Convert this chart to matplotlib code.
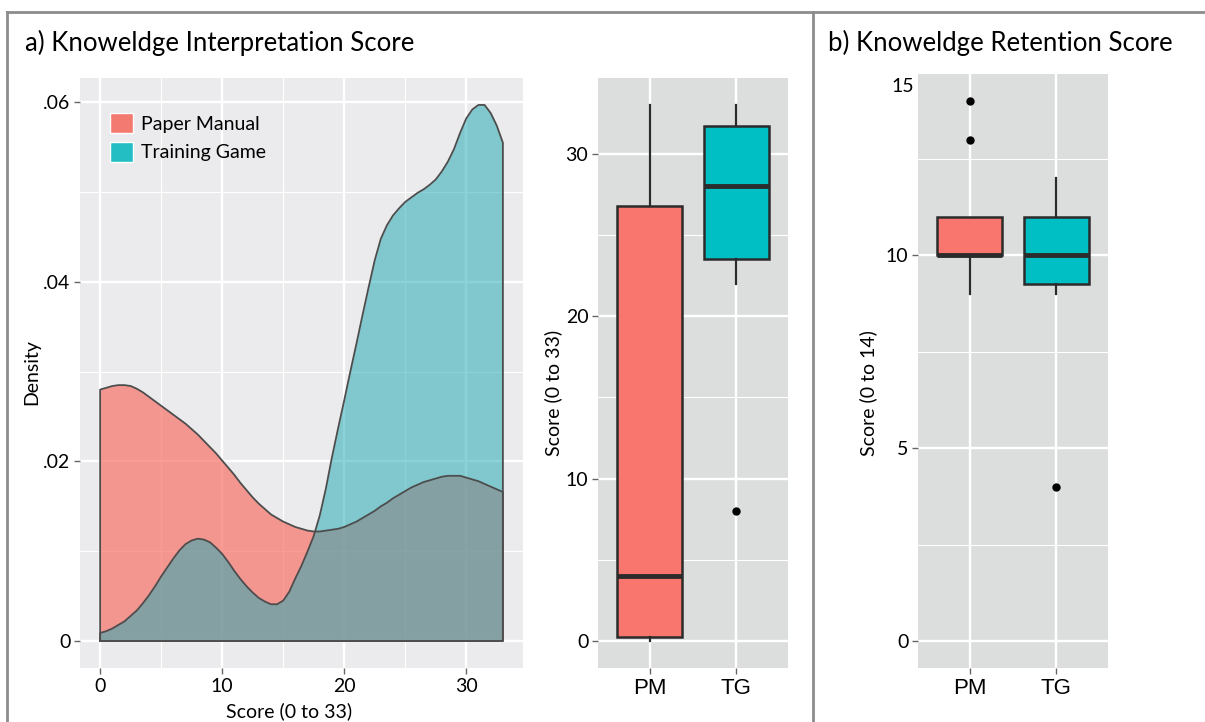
import matplotlib
matplotlib.use("Agg")
import matplotlib.pyplot as plt
from matplotlib.patches import Patch
from matplotlib.lines import Line2D

plt.rcParams['font.family'] = ['Lato', 'DejaVu Sans']

# density curves, every half point of score 0..33
score = [i / 2 for i in range(67)]
dens_pm = [0.0280, 0.0282, 0.0284, 0.0285, 0.0285, 0.0284, 0.0281, 0.0277, 0.0272, 0.0267,
           0.0262, 0.0257, 0.0252, 0.0247, 0.0242, 0.0236, 0.0230, 0.0223, 0.0216, 0.0209,
           0.0201, 0.0193, 0.0185, 0.0176, 0.0168, 0.0160, 0.0153, 0.0147, 0.0141, 0.0137,
           0.0133, 0.0130, 0.0127, 0.0125, 0.0123, 0.0122, 0.0122, 0.0123, 0.0124, 0.0125,
           0.0127, 0.0130, 0.0133, 0.0137, 0.0141, 0.0145, 0.0150, 0.0154, 0.0159, 0.0163,
           0.0167, 0.0171, 0.0174, 0.0177, 0.0179, 0.0181, 0.0183, 0.0184, 0.0184, 0.0184,
           0.0182, 0.0180, 0.0178, 0.0175, 0.0172, 0.0169, 0.0166]
dens_tg = [0.0009, 0.0011, 0.0014, 0.0018, 0.0022, 0.0028, 0.0034, 0.0042, 0.0051, 0.0061,
           0.0072, 0.0082, 0.0092, 0.0101, 0.0108, 0.0112, 0.0114, 0.0113, 0.0110, 0.0104,
           0.0097, 0.0088, 0.0078, 0.0069, 0.0061, 0.0054, 0.0048, 0.0044, 0.0041, 0.0041,
           0.0045, 0.0055, 0.0070, 0.0084, 0.0100, 0.0117, 0.0140, 0.0170, 0.0205, 0.0237,
           0.0268, 0.0300, 0.0331, 0.0363, 0.0394, 0.0424, 0.0448, 0.0463, 0.0474, 0.0482,
           0.0489, 0.0494, 0.0499, 0.0503, 0.0508, 0.0514, 0.0523, 0.0534, 0.0548, 0.0566,
           0.0582, 0.0592, 0.0597, 0.0597, 0.0588, 0.0574, 0.0555]

groups = ['PM', 'TG']
legend_labels = ['Paper Manual', 'Training Game']

# boxplot stats: (low whisker, q1, median, q3, high whisker, outliers)
interp_pm = (0, 0.25, 4, 26.8, 33, [])
interp_tg = (22, 23.5, 28, 31.7, 33, [8])
retent_pm = (9, 10, 10, 11, 11, [13, 14])
retent_tg = (9, 9.25, 10, 11, 12, [4])

RED = '#F8766D'
TEAL = '#00BFC4'
W, H = 1205, 722

fig = plt.figure(figsize=(W / 100, H / 100), dpi=100)


def px_axes(x0, y0, x1, y1):
    return fig.add_axes([x0 / W, 1 - y1 / H, (x1 - x0) / W, (y1 - y0) / H])


def style(ax, bg):
    ax.set_facecolor(bg)
    for s in ax.spines.values():
        s.set_visible(False)
    ax.grid(True, which='major', color='white', lw=1.7)
    ax.grid(True, which='minor', color='white', lw=0.8)
    ax.set_axisbelow(True)
    ax.tick_params(which='major', length=4, width=1, color='#666666', labelsize=14, pad=3)
    ax.tick_params(which='minor', length=0)


# ---- a) density ----
ax1 = px_axes(80, 78, 523, 668)
style(ax1, '#EBEBED')
ax1.fill_between(score, dens_pm, 0, color=RED, alpha=0.72, lw=0)
ax1.plot([0] + score + [33, 0], [0] + dens_pm + [0, 0], color='#4d4d4d', lw=1.3)
ax1.fill_between(score, dens_tg, 0, color='#22AAB4', alpha=0.53, lw=0)
ax1.plot([0] + score + [33, 0], [0] + dens_tg + [0, 0], color='#4d4d4d', lw=1.3)
ax1.set_xlim(-1.65, 34.65)
ax1.set_ylim(-0.003, 0.0627)
ax1.set_xticks([0, 10, 20, 30])
ax1.set_xticks([5, 15, 25], minor=True)
ax1.set_yticks([0, 0.02, 0.04, 0.06])
ax1.set_yticklabels(['0', '.02', '.04', '.06'])
ax1.set_yticks([0.01, 0.03, 0.05], minor=True)
handles = [Patch(facecolor='#F27A70', edgecolor='white', lw=1),
           Patch(facecolor='#22BEC3', edgecolor='white', lw=1)]
ax1.legend(handles, legend_labels, loc='upper left', bbox_to_anchor=((110 - 80) / 443, (668 - 113) / 590),
           frameon=False, fontsize=14, handlelength=1.2, handleheight=1.2, handletextpad=0.4,
           labelspacing=0.45, borderpad=0, borderaxespad=0)


def boxes(ax, stats_list, ylim, yticks, minor):
    stats = []
    for s in stats_list:
        stats.append(dict(whislo=s[0], q1=s[1], med=s[2], q3=s[3], whishi=s[4], fliers=s[5]))
    bp = ax.bxp(stats, positions=[1, 2], widths=0.75, patch_artist=True, showcaps=False,
                boxprops=dict(edgecolor='#2b2b2b', lw=1.8),
                medianprops=dict(color='#2b2b2b', lw=3.5),
                whiskerprops=dict(color='#2b2b2b', lw=1.6),
                flierprops=dict(marker='o', markerfacecolor='black', markeredgecolor='black', markersize=5))
    for patch, c in zip(bp['boxes'], [RED, TEAL]):
        patch.set_facecolor(c)
    ax.set_xlim(0.4, 2.6)
    ax.set_ylim(*ylim)
    ax.set_xticks([1, 2])
    ax.set_xticklabels(groups, fontfamily='Liberation Sans', fontsize=16)
    ax.set_yticks(yticks)
    ax.set_yticks(minor, minor=True)


ax2 = px_axes(598, 78, 788, 668)
style(ax2, '#DCDDDD')
boxes(ax2, [interp_pm, interp_tg], (-1.65, 34.65), [0, 10, 20, 30], [5, 15, 25])

ax3 = px_axes(918, 74, 1108, 668)
style(ax3, '#DCDDDD')
boxes(ax3, [retent_pm, retent_tg], (-0.7, 14.7), [0, 5, 10], [2.5, 7.5, 12.5])

# titles and labels
fig.text(25 / W, 1 - 43 / H, 'a) Knoweldge Interpretation Score', fontsize=18.5, va='center', ha='left')
fig.text(828 / W, 1 - 43 / H, 'b) Knoweldge Retention Score', fontsize=18.5, va='center', ha='left')
fig.text(32 / W, 1 - 372 / H, 'Density', fontsize=14, rotation=90, va='center', ha='center')
fig.text(289 / W, 1 - 711 / H, 'Score (0 to 33)', fontsize=14, va='center', ha='center')
fig.text(553 / W, 1 - 393 / H, 'Score (0 to 33)', fontsize=14, rotation=90, va='center', ha='center')
fig.text(868 / W, 1 - 393 / H, 'Score (0 to 14)', fontsize=14, rotation=90, va='center', ha='center')
fig.text(903 / W, 1 - 86 / H, '15', fontsize=14, va='center', ha='center')

# outer frame and divider
for xs, ys in [([7, 1205], [12, 12]), ([7, 7], [12, 722]), ([813, 813], [12, 722])]:
    fig.add_artist(Line2D([x / W for x in xs], [1 - y / H for y in ys], color='#8c8c8c', lw=2))

fig.savefig('out.png', dpi=100, facecolor='white')
